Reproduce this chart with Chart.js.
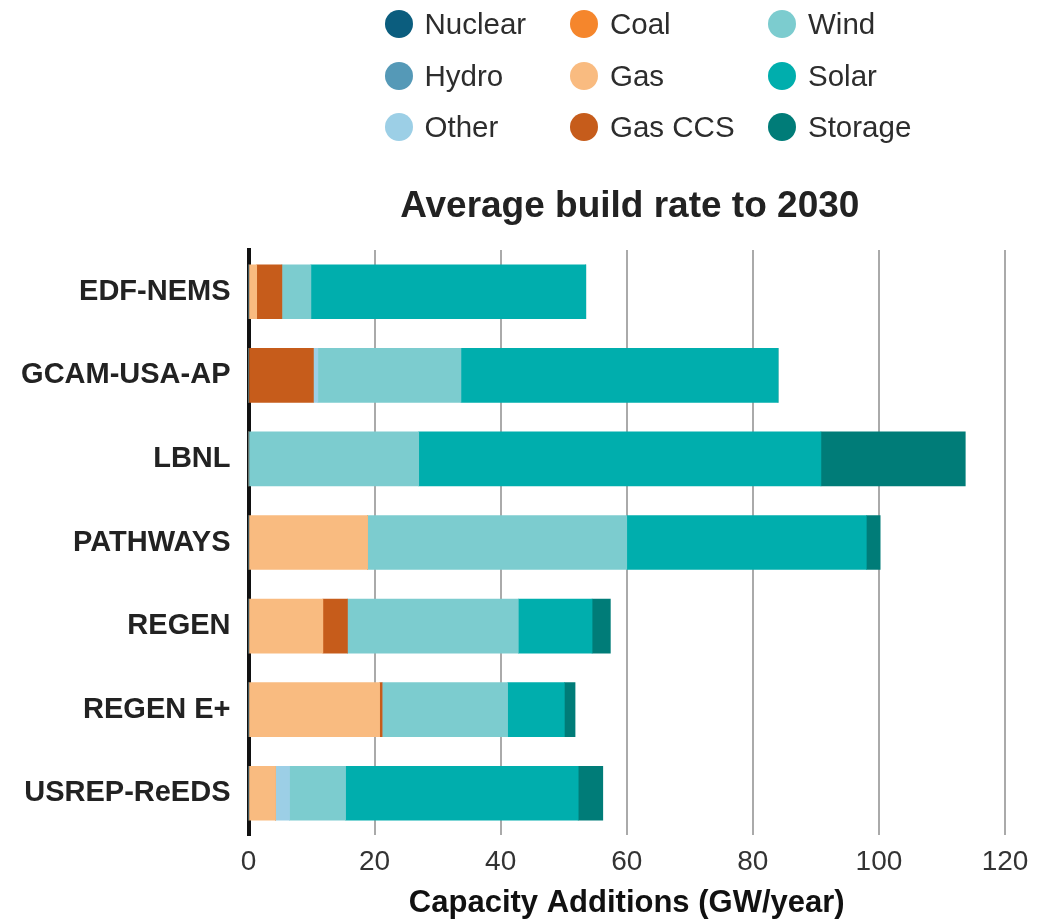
<!DOCTYPE html>
<html>
<head>
<meta charset="utf-8">
<title>Average build rate to 2030</title>
<script src="https://cdn.jsdelivr.net/npm/chart.js@4.4.0/dist/chart.umd.min.js"></script>
<style>
  html, body { margin: 0; padding: 0; background: #fff; }
  #wrap { position: relative; width: 1054px; height: 922px; overflow: hidden; }
  #chart { position: absolute; left: 0; top: 0; }
  .legend-item {
    position: absolute;
    display: flex;
    align-items: center;
    height: 28px;
    font-family: "Liberation Sans", Arial, sans-serif;
    font-size: 29.5px;
    color: #2d2d2d;
    white-space: nowrap;
  }
  .legend-item .dot { width: 28px; height: 28px; border-radius: 50%; margin-right: 12px; flex: none; }
</style>
</head>
<body>
<div id="wrap">
  <canvas id="chart" width="1054" height="922"></canvas>
  <div id="legend"></div>
</div>
<script>
// -----------------------------
// DATA (GW/year)
// -----------------------------
const models = ["EDF-NEMS", "GCAM-USA-AP", "LBNL", "PATHWAYS", "REGEN", "REGEN E+", "USREP-ReEDS"];

const nuclear = [0, 0, 0, 0, 0, 0, 0];
const hydro   = [0, 0, 0, 0, 0, 0, 0];
const coal    = [0, 0, 0, 0, 0, 0, 0];
const gas     = [1.3, 0, 0, 18.9, 11.8, 20.8, 4.3];
const gasCCS  = [4.0, 10.3, 0, 0, 3.9, 0.4, 0];
const other   = [0, 0.7, 0, 0, 0, 0, 2.2];
const wind    = [4.6, 22.7, 27.0, 41.1, 27.1, 19.9, 8.9];
const solar   = [43.6, 50.3, 63.8, 38.0, 11.7, 9.0, 36.9];
const storage = [0, 0, 22.9, 2.2, 2.9, 1.7, 3.9];

const xTicks = [0, 20, 40, 60, 80, 100, 120];
const chartTitle = "Average build rate to 2030";
const xTitle = "Capacity Additions (GW/year)";

// stacking order (left to right inside a bar)
const series = [
  { name: "Nuclear", values: nuclear, color: "#0b5d7e" },
  { name: "Hydro",   values: hydro,   color: "#5599b7" },
  { name: "Coal",    values: coal,    color: "#f5862c" },
  { name: "Gas",     values: gas,     color: "#f9bb80" },
  { name: "Gas CCS", values: gasCCS,  color: "#c65c1b" },
  { name: "Other",   values: other,   color: "#9ccfe6" },
  { name: "Wind",    values: wind,    color: "#7ccccf" },
  { name: "Solar",   values: solar,   color: "#00aead" },
  { name: "Storage", values: storage, color: "#007c78" }
];

// legend is read column by column
const legendColumns = [
  ["Nuclear", "Hydro", "Other"],
  ["Coal", "Gas", "Gas CCS"],
  ["Wind", "Solar", "Storage"]
];

const sans = '"Liberation Sans", Arial, sans-serif';

// -----------------------------
// TITLE over the plot area
// -----------------------------
const titlePlugin = {
  id: "plotTitle",
  afterDraw(chart) {
    const { ctx, chartArea } = chart;
    ctx.save();
    ctx.font = "bold 37px " + sans;
    ctx.fillStyle = "#222";
    ctx.textAlign = "center";
    ctx.textBaseline = "alphabetic";
    ctx.fillText(chartTitle, (chartArea.left + chartArea.right) / 2 + 3, 217);
    ctx.restore();
  }
};

const chart = new Chart(document.getElementById("chart"), {
  type: "bar",
  data: {
    labels: models,
    datasets: series.map(s => ({
      label: s.name,
      data: s.values,
      backgroundColor: s.color,
      borderWidth: 0,
      barThickness: 54
    }))
  },
  options: {
    indexAxis: "y",
    responsive: false,
    animation: false,
    devicePixelRatio: 1,
    layout: { padding: { top: 250, right: 49, bottom: 0, left: 0 } },
    plugins: {
      legend: { display: false },
      tooltip: { enabled: false }
    },
    scales: {
      x: {
        stacked: true,
        min: 0,
        max: 120,
        afterBuildTicks: scale => { scale.ticks = xTicks.map(v => ({ value: v })); },
        afterFit: scale => { scale.height = 87; },
        grid: {
          drawTicks: false,
          lineWidth: 2,
          color: c => (c.tick && c.tick.value === 0 ? "rgba(0,0,0,0)" : "#aaaaaa")
        },
        border: { display: false },
        ticks: {
          padding: 10,
          color: "#333",
          font: { family: sans, size: 28 }
        },
        title: {
          display: true,
          text: xTitle,
          color: "#111",
          padding: { top: 0, bottom: 0 },
          font: { family: sans, size: 31, weight: "bold" }
        }
      },
      y: {
        stacked: true,
        z: 1,
        afterFit: scale => { scale.width = 248.5; },
        grid: { display: false, drawTicks: false },
        border: { display: true, color: "#111", width: 4 },
        ticks: {
          padding: 18,
          color: "#222",
          font: { family: sans, size: 29, weight: "bold" }
        }
      }
    }
  },
  plugins: [titlePlugin]
});

// -----------------------------
// HTML LEGEND (3 x 3 grid)
// -----------------------------
const legendEl = document.getElementById("legend");
const colX = [384.5, 570, 768];
const rowY = [10, 62, 113];
legendColumns.forEach((col, ci) => {
  col.forEach((name, ri) => {
    const s = series.find(d => d.name === name);
    const item = document.createElement("div");
    item.className = "legend-item";
    item.style.left = colX[ci] + "px";
    item.style.top = rowY[ri] + "px";
    item.innerHTML = `<span class="dot" style="background:${s.color}"></span><span>${name}</span>`;
    legendEl.appendChild(item);
  });
});
</script>
</body>
</html>
